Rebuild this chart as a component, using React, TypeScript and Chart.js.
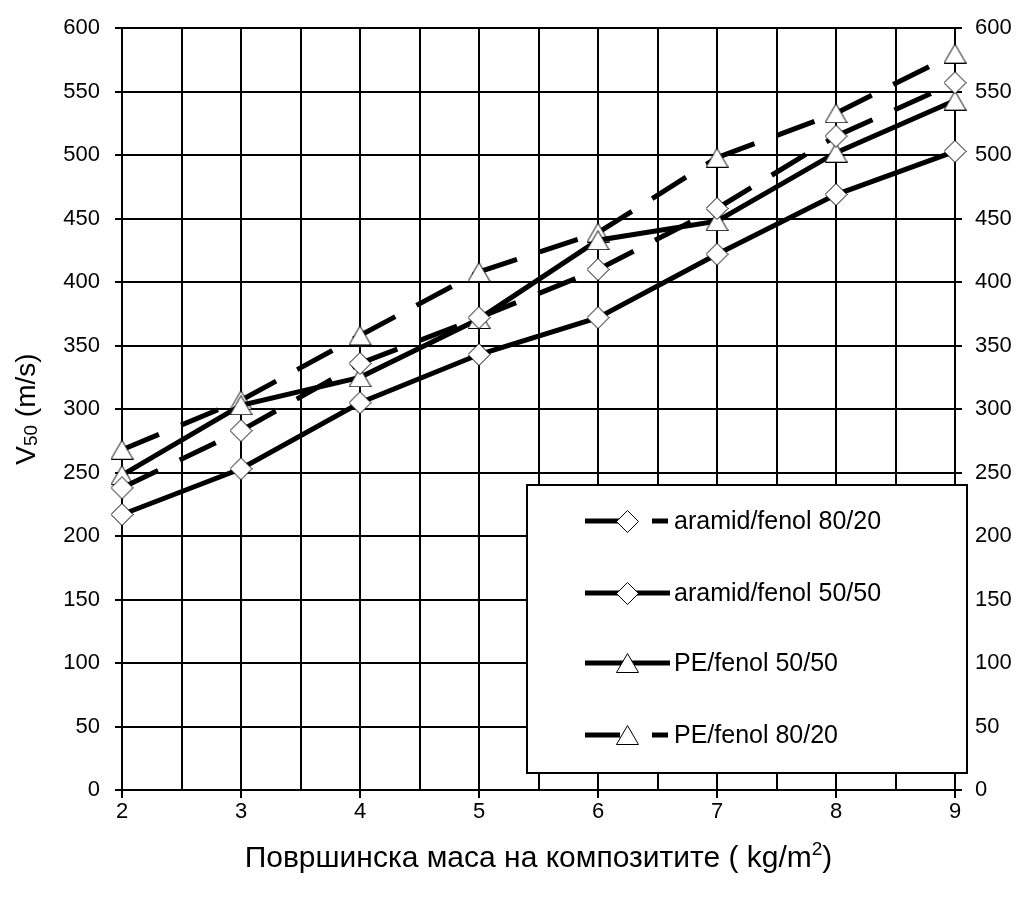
import React, { useEffect, useRef } from 'react';
import { Chart, registerables } from 'chart.js';
Chart.register(...registerables);

// ---- data ----
const xValues = [2, 3, 4, 5, 6, 7, 8, 9];
const aramid8020 = [238, 283, 336, 372, 410, 458, 515, 557];
const aramid5050 = [217, 253, 305, 343, 372, 422, 469, 503];
const pe5050 = [248, 303, 325, 371, 433, 448, 502, 543];
const pe8020 = [268, 307, 358, 408, 439, 498, 533, 580];
const seriesLabels = ['aramid/fenol 80/20', 'aramid/fenol 50/50', 'PE/fenol 50/50', 'PE/fenol 80/20'];
const yTicksMin = 0;
const yTicksMax = 600;
const yStep = 50;
const xMin = 2;
const xMax = 9;
const xTitleMain = 'Површинска маса на композитите ( kg/m';
const xTitleSup = '2';
const xTitleEnd = ')';
const yTitleMain = 'V';
const yTitleSub = '50';
const yTitleRest = ' (m/s)';

const FONT = "'Liberation Sans', Arial, sans-serif";

function makeTriangle(): HTMLCanvasElement {
  const c = document.createElement('canvas');
  c.width = 23;
  c.height = 20;
  const g = c.getContext('2d')!;
  g.beginPath();
  g.moveTo(11.5, 0.5);
  g.lineTo(22.5, 19.5);
  g.lineTo(0.5, 19.5);
  g.closePath();
  g.fillStyle = '#fff';
  g.fill();
  g.lineWidth = 1;
  g.strokeStyle = '#000';
  g.stroke();
  return c;
}

function makeDiamond(): HTMLCanvasElement {
  const c = document.createElement('canvas');
  c.width = 23;
  c.height = 23;
  const g = c.getContext('2d')!;
  g.beginPath();
  g.moveTo(11.5, 0.5);
  g.lineTo(22.5, 11.5);
  g.lineTo(11.5, 22.5);
  g.lineTo(0.5, 11.5);
  g.closePath();
  g.fillStyle = '#fff';
  g.fill();
  g.lineWidth = 1;
  g.strokeStyle = '#000';
  g.stroke();
  return c;
}

export default function App() {
  const ref = useRef<HTMLCanvasElement | null>(null);

  useEffect(() => {
    if (!ref.current) return;
    const tri = makeTriangle();
    const dia = makeDiamond();
    const DASH = [40, 24];
    const toXY = (arr: number[]) => arr.map((v, i) => ({ x: xValues[i], y: v }));
    const dashedSegment = {
      borderDashOffset: (ctx: any) => (ctx.p0DataIndex % 2 ? 0.01 : 0),
    };

    const markers = [dia, dia, tri, tri];
    const dashed = [true, false, false, true];

    const common = {
      borderColor: '#000',
      borderWidth: 5,
      borderCapStyle: 'butt' as const,
      pointRadius: 10,
      pointHoverRadius: 10,
      tension: 0,
      fill: false,
      clip: false as const,
    };

    const legendPlugin = {
      id: 'customDecor',
      afterDraw(chart: any) {
        const ctx: CanvasRenderingContext2D = chart.ctx;
        const area = chart.chartArea;
        ctx.save();
        // legend box
        ctx.fillStyle = '#fff';
        ctx.fillRect(527, 485, 440, 288);
        ctx.lineWidth = 2;
        ctx.strokeStyle = '#000';
        ctx.strokeRect(527, 485, 440, 288);
        const rows = [521, 593, 663, 735];
        ctx.font = `25px ${FONT}`;
        ctx.textBaseline = 'middle';
        ctx.textAlign = 'left';
        rows.forEach((ry, i) => {
          ctx.lineWidth = 5;
          ctx.lineCap = 'butt';
          ctx.strokeStyle = '#000';
          ctx.beginPath();
          if (dashed[i]) {
            ctx.moveTo(585, ry);
            ctx.lineTo(620, ry);
            ctx.moveTo(652, ry);
            ctx.lineTo(668, ry);
          } else {
            ctx.moveTo(585, ry);
            ctx.lineTo(670, ry);
          }
          ctx.stroke();
          const m = markers[i];
          ctx.drawImage(m, Math.round(627 - m.width / 2), Math.round(ry - m.height / 2));
          ctx.fillStyle = '#000';
          ctx.fillText(seriesLabels[i], 674, ry + 1);
        });

        // x title
        ctx.fillStyle = '#000';
        ctx.textBaseline = 'alphabetic';
        const mainF = `30px ${FONT}`;
        const supF = `19px ${FONT}`;
        ctx.font = mainF;
        const w1 = ctx.measureText(xTitleMain).width;
        const w3 = ctx.measureText(xTitleEnd).width;
        ctx.font = supF;
        const w2 = ctx.measureText(xTitleSup).width;
        const total = w1 + w2 + w3;
        const cx = (area.left + area.right) / 2;
        let sx = cx - total / 2;
        const by = 867;
        ctx.font = mainF;
        ctx.fillText(xTitleMain, sx, by);
        sx += w1;
        ctx.font = supF;
        ctx.fillText(xTitleSup, sx, by - 12);
        sx += w2;
        ctx.font = mainF;
        ctx.fillText(xTitleEnd, sx, by);

        // y title (rotated)
        ctx.translate(35, (area.top + area.bottom) / 2);
        ctx.rotate(-Math.PI / 2);
        const yMainF = `28px ${FONT}`;
        const ySubF = `19px ${FONT}`;
        ctx.font = yMainF;
        const a1 = ctx.measureText(yTitleMain).width;
        const a3 = ctx.measureText(yTitleRest).width;
        ctx.font = ySubF;
        const a2 = ctx.measureText(yTitleSub).width;
        let tx = -(a1 + a2 + a3) / 2;
        ctx.font = yMainF;
        ctx.fillText(yTitleMain, tx, 0);
        tx += a1;
        ctx.font = ySubF;
        ctx.fillText(yTitleSub, tx, 2);
        tx += a2;
        ctx.font = yMainF;
        ctx.fillText(yTitleRest, tx, 0);
        ctx.restore();
      },
    };

    const chart = new Chart(ref.current, {
      type: 'line',
      data: {
        datasets: [
          {
            ...common,
            label: seriesLabels[0],
            data: toXY(aramid8020),
            borderDash: DASH,
            segment: dashedSegment,
            pointStyle: dia,
          },
          {
            ...common,
            label: seriesLabels[1],
            data: toXY(aramid5050),
            pointStyle: dia,
          },
          {
            ...common,
            label: seriesLabels[2],
            data: toXY(pe5050),
            pointStyle: tri,
          },
          {
            ...common,
            label: seriesLabels[3],
            data: toXY(pe8020),
            borderDash: DASH,
            segment: dashedSegment,
            pointStyle: tri,
          },
        ] as any,
      },
      options: {
        animation: false,
        responsive: false,
        devicePixelRatio: 1,
        layout: { padding: { top: 27, left: 0, right: 0, bottom: 0 } },
        plugins: {
          legend: { display: false },
          tooltip: { enabled: false },
          title: { display: false },
        },
        scales: {
          x: {
            type: 'linear',
            min: xMin,
            max: xMax,
            afterFit: (s: any) => {
              s.height = 111;
            },
            ticks: {
              stepSize: 0.5,
              autoSkip: false,
              maxRotation: 0,
              color: '#000',
              padding: 1,
              font: { family: FONT, size: 22 },
              callback: (v: any) => (Number.isInteger(Number(v)) ? String(v) : ''),
            },
            grid: {
              color: '#000',
              lineWidth: 2,
              tickLength: 8,
              tickColor: (c: any) =>
                c.tick && Number.isInteger(c.tick.value) ? '#000' : 'rgba(0,0,0,0)',
            },
            border: { color: '#000', width: 2 },
          },
          y: {
            type: 'linear',
            position: 'left',
            min: yTicksMin,
            max: yTicksMax,
            afterFit: (s: any) => {
              s.width = 122;
            },
            ticks: {
              stepSize: yStep,
              color: '#000',
              padding: 15,
              font: { family: FONT, size: 22 },
            },
            grid: { color: '#000', lineWidth: 2, tickLength: 7 },
            border: { color: '#000', width: 2 },
          },
          y2: {
            type: 'linear',
            position: 'right',
            min: yTicksMin,
            max: yTicksMax,
            afterFit: (s: any) => {
              s.width = 69;
            },
            ticks: {
              stepSize: yStep,
              color: '#000',
              padding: 13,
              font: { family: FONT, size: 22 },
            },
            grid: { color: '#000', lineWidth: 2, tickLength: 7, drawOnChartArea: false },
            border: { color: '#000', width: 2 },
          },
        },
      } as any,
      plugins: [legendPlugin],
    });
    return () => chart.destroy();
  }, []);

  return (
    <div style={{ position: 'absolute', left: 0, top: 0, width: 1024, height: 901, background: '#fff' }}>
      <canvas ref={ref} width={1024} height={901} />
    </div>
  );
}
